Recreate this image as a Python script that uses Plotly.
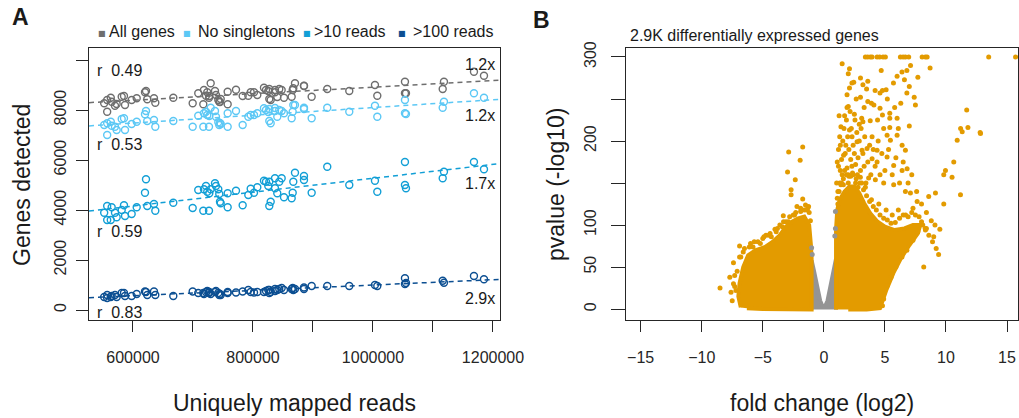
import numpy as np
import plotly.graph_objects as go

# ---------------- Panel A data ----------------
reads = [552000, 557000, 557000, 563000, 564500, 570000, 572800, 581200, 585000, 586700,
         597800, 606200, 620000, 621700, 623800, 635000, 637200, 667200, 699500, 708800,
         717200, 726700, 718300, 721700, 723800, 727200, 729500, 736700, 738300, 742200,
         743800, 745000, 746200, 757800, 757800, 771700, 782800, 792200, 796200, 801700,
         807200, 818300, 821700, 825500, 827200, 829500, 827200, 836700, 836700, 840500,
         843800, 847800, 851700, 864500, 866200, 867200, 870000, 885000, 885000, 897800,
         923800, 960500, 1003300, 1007200, 1053300, 1053300, 1055000, 1116200, 1118300, 1168300, 1185000]

all_genes = [8268, 8400, 7932, 8492, 8332, 8172, 8240, 8532, 8560, 8200,
             8400, 8468, 8708, 8760, 8428, 8468, 8292, 8492, 8268, 8668,
             8228, 8492, 8800, 8572, 8708, 8560, 9068, 8760, 8600, 8400,
             8332, 8320, 8440, 8228, 8732, 8812, 8560, 8572, 8708, 8708,
             8600, 8892, 8800, 8760, 8440, 8400, 8840, 8708, 8800, 8520,
             8840, 8800, 8492, 8532, 8800, 8868, 9068, 8972, 8960, 8532,
             8840, 8760, 9000, 8572, 9132, 8668, 8668, 8840, 9132, 9532, 9372]

no_singletons = [7400, 7468, 7000, 7532, 7372, 7332, 7200, 7640, 7668, 7200,
                 7440, 7532, 7828, 7960, 7560, 7600, 7332, 7560, 7332, 7772,
                 7332, 7332, 7868, 7932, 7800, 7760, 8092, 7960, 7732, 7508,
                 7400, 7480, 7440, 7332, 7868, 7960, 7400, 7732, 7800, 7800,
                 7868, 8068, 8000, 7920, 7560, 7468, 8040, 7960, 8080, 7732,
                 8000, 7960, 7868, 7668, 7932, 8200, 8200, 8092, 8040, 7668,
                 8092, 7932, 8172, 7732, 8400, 7868, 7840, 8092, 8332, 8668, 8492]

gt10 = [3892, 4160, 3600, 3600, 4108, 3892, 3708, 4000, 4188, 3760,
        3840, 4108, 4692, 5228, 4160, 4240, 3972, 4292, 4080, 4800,
        3972, 3972, 4828, 4960, 4732, 4668, 4828, 5068, 4960, 4828,
        4640, 4332, 4268, 4108, 4668, 4772, 4188, 4600, 4852, 4692,
        4908, 5172, 5132, 4960, 4160, 4332, 5132, 4868, 5268, 4668,
        5132, 5268, 4508, 4468, 4692, 5132, 5492, 5360, 5200, 4692,
        5732, 5000, 5172, 4732, 5920, 5000, 4868, 5268, 5532, 5920, 5628]

gt100 = [520, 600, 480, 520, 560, 600, 520, 680, 680, 560,
         560, 640, 740, 720, 600, 740, 600, 560, 740, 680,
         680, 680, 640, 720, 760, 720, 640, 720, 760, 680,
         600, 640, 600, 680, 720, 700, 740, 800, 720, 700,
         720, 720, 760, 800, 680, 720, 800, 840, 760, 800,
         840, 880, 800, 840, 880, 800, 840, 840, 900, 960,
         960, 960, 1000, 960, 1268, 1040, 1080, 1172, 1092, 1360, 1228]

series_names = ["All genes", "No singletons", ">10 reads", ">100 reads"]
series_colors = ["#6e6e6e", "#5cc8f5", "#129fd6", "#0c4f92"]
r_labels = ["r  0.49", "r  0.53", "r  0.59", "r  0.83"]
r_label_y = [9600, 6640, 3130, -110]
fold_labels = ["1.2x", "1.2x", "1.7x", "2.9x"]
fold_label_y = [9840, 7800, 5080, 480]

xA_ticks = [600000, 700000, 800000, 900000, 1000000, 1100000, 1200000]
xA_text = ["600000", "", "800000", "", "1000000", "", "1200000"]
yA_ticks = [0, 2000, 4000, 6000, 8000, 10000]
yA_text = ["0", "2000", "4000", "6000", "8000", ""]
xA_range = [526700, 1211700]
yA_range = [-400, 10480]

# ---------------- Panel B data ----------------
# envelopes of the densely packed point clouds (fold change, -log10 p)
ns_fc = [-1.0, -1.0, -0.8, -0.55, -0.3, -0.1, 0.1, 0.3, 0.55, 0.8, 1.0, 1.0]
ns_p = [-0.5, 58, 45, 25, 10, 3, 3, 10, 28, 48, 60, -0.5]
down_fc = [-6.8, -7.0, -6.9, -6.6, -6.2, -5.6, -4.8, -4.2, -3.6, -3.1, -2.6, -2.1, -1.6, -1.2, -1.05, -1.0, -1.0, -3.0, -5.0, -6.3]
down_p = [2, 15, 31, 50, 64, 70, 74, 80, 88, 98, 104, 108, 110, 100, 75, 60, -0.5, -0.5, 0, 1]
up_fc = [1.0, 1.0, 1.1, 1.3, 1.7, 2.1, 2.5, 2.9, 3.3, 3.8, 4.4, 5.0, 5.8, 6.6, 7.3, 7.9, 7.7, 7.0, 6.3, 5.7, 5.1, 4.8, 4.6, 3.5, 2.0]
up_p = [-0.5, 95, 118, 130, 140, 146, 146, 138, 126, 114, 104, 98, 94, 96, 100, 100, 90, 76, 60, 43, 22, 8, 1, -0.5, -0.5]

# individual sparse significant genes
sig_fc = [3.4, 3.59, 3.81, 3.95, 4.36, 4.57, 4.85, 5.04, 6.27, 6.49, 6.68, 6.95, 8.05, 8.32, 8.46, 13.5, 15.7,
          1.5, 2.1, 4.7, 6.4, 6.8, 7.1, 7.7, 8.7, 2.3, 3.2, 3.6, 2.1, 3.5, 4.2, 4.8, 5.1,
          5.7, 6.0, 6.6, 7.0, 6.8, 4.6, 7.4, 7.5, 2.0, 3.6, 4.1, 4.6, 5.4, 3.1, 3.2, 3.8,
          4.8, 5.4, 6.0, 11.7, 1.4, 2.1, 2.9, 4.9, 5.4, 6.1, 7.0, 11.2, 11.8, 12.8,
          1.35, 1.62, 2.31, 2.72, 3.13, 3.54, 3.95, 4.36, 5.18, 5.45, 6.0, 6.41, 6.68,
          3.95, 4.36, 5.18, 5.72, 6.41, 6.82, 2.99, 3.67, 4.22, 4.9, 5.72, 6.68, 7.09, 7.64,
          8.59, 9.14, 9.82, 9.96, 10.64, 10.5, 11.19, 10.92, 11.33, 12.83, 9.82, 8.18, 9.0, 8.32,
          1.2, 1.5, 1.9, 2.2, 2.5, 1.8, 2.6, 2.0, 2.8, 1.3, 2.4, 3.3, 2.7, 3.3, 1.7, 2.5, 1.9, 3.0,
          1.1, 1.25, 1.45, 1.6, 1.85, 2.05, 2.35, 2.65, 2.95, 3.25, 3.5, 3.75, 4.05, 4.3, 4.6,
          4.9, 5.2, 5.5, 5.85, 6.2, 6.5, 6.9, 7.2, 7.5, 7.8, 8.0, 8.3, 8.6, 8.9, 9.2, 9.4,
          1.15, 1.4, 1.7, 2.0, 2.3, 2.6, 3.0, 3.4, 3.9, 4.5, 5.1, 5.6, 6.1, 6.7, 7.3,
          1.05, 1.1, 1.2, 1.3, 1.45, 1.55, 1.65, 1.75, 1.85, 1.95, 2.05, 2.15, 2.25, 2.4, 2.55,
          2.65, 2.8, 2.9, 3.05, 3.2, 3.35, 3.45, 3.6, 3.75, 3.85, 4.05, 4.2, 4.45, 4.6, 4.75,
          5.0, 5.3, 5.6, 5.9, 6.2, 6.5, 6.9, 7.2, 7.6, 8.0, 8.4, 8.8, 9.1, 9.5, 1.35,
          1.15, 1.6, 2.2, 2.75, 3.1, 1.9, 2.45, 2.0, 1.25, 3.0, 3.9, 4.4, 5.2, 5.8, 6.3,
          4.9, 5.2, 5.5, 5.9, 6.4, 6.8, 7.3, 7.7, 8.1, 8.4, 4.8,
          -2.88, -1.73, -1.94, -2.97, -2.34, -2.68, -2.68, -1.73, -1.32, -3.32, -4.74, -6.9, -7.7, -8.5, -7.3,
          -4.0, -3.6, -2.2, -1.1, -6.5, -6.0, -5.4, -5.0, -4.5, -3.9, -3.4, -2.9, -2.5, -1.9, -1.4,
          -7.3, -7.4, -7.2, -6.8, -5.8, -4.3, -3.1, -2.4, -1.6, -1.25,
          -6.9, -6.6, -6.1, -5.7, -5.2, -4.9, -4.4, -3.8, -3.3, -2.8, -2.3, -1.9, -1.5, -1.2,
          -7.5, -7.6, -7.4, -7.1]
sig_p = [300, 300, 300, 300, 300, 300, 300, 300, 300, 300, 300, 300, 300, 300, 300, 300, 300,
         292, 286, 284, 282, 284, 290, 276, 287, 269, 267, 271, 263, 262, 260, 260, 261,
         269, 277, 273, 265, 257, 257, 252, 243, 241, 247, 243, 239, 233, 227, 223, 224,
         231, 227, 227, 237, 217, 213, 220, 215, 216, 215, 218, 215, 216, 210,
         195, 183, 205, 199, 189, 191, 205, 189, 207, 201, 207, 195, 189,
         179, 175, 181, 171, 165, 167, 157, 156, 154, 150, 148, 140, 138, 128,
         134, 138, 160, 165, 175, 157, 136, 201, 211, 209, 125, 50, 86, 94,
         170, 160, 168, 178, 185, 195, 172, 150, 145, 150, 160, 170, 210, 240, 230, 232, 255, 252,
         132, 140, 150, 155, 160, 158, 162, 155, 150, 142, 135, 128, 122, 118, 112,
         108, 106, 102, 103, 108, 112, 110, 115, 112, 110, 104, 96, 88, 80, 72, 65,
         125, 148, 165, 160, 170, 150, 165, 145, 130, 125, 118, 112, 118, 112, 120,
         150, 175, 190, 205, 178, 200, 215, 185, 225, 205, 190, 235, 215, 195, 225,
         250, 180, 200, 215, 185, 205, 150, 175, 195, 160, 190, 170, 200, 160, 185,
         165, 190, 160, 180, 150, 175, 150, 160, 140, 125, 115, 105, 100, 95, 165,
         140, 148, 158, 160, 150, 240, 270, 280, 230, 275, 245, 225, 250, 240, 245,
         12, 28, 38, 50, 62, 70, 82, 92, 100, 96, 4,
         187, 193, 177, 163, 154, 142, 136, 131, 120, 111, 88, 75, 38, 25, 27,
         95, 100, 122, 105, 72, 78, 80, 84, 88, 92, 98, 104, 112, 116, 118,
         40, 55, 22, 62, 74, 86, 104, 112, 118, 122,
         62, 68, 74, 80, 78, 86, 90, 96, 104, 110, 115, 120, 124, 115,
         10, 20, 30, 45]
ns_extra_fc = [0.95, 0.95, 0.9, -1.0, -0.95]
ns_extra_p = [116, 96, 87, 73, 65]

xB_ticks = [-15, -10, -5, 0, 5, 10, 15]
yB_ticks = [0, 50, 100, 150, 200, 250, 300]
yB_text = ["0", "50", "100", "", "200", "", "300"]
xB_range = [-16.2, 15.9]
yB_range = [-13, 310.7]

ORANGE = "#e39b00"
GREY = "#949494"
FONT = "Liberation Sans, Arial, sans-serif"
W, H = 1019, 418

fig = go.Figure()

# Panel A points and fits
for name, ys, col in zip(series_names, [all_genes, no_singletons, gt10, gt100], series_colors):
    fig.add_trace(go.Scatter(x=reads, y=ys, mode="markers", name=name, showlegend=False,
                             marker=dict(symbol="circle-open", size=7, color=col, line=dict(width=1.4, color=col)),
                             xaxis="x", yaxis="y"))
    k, b = np.polyfit(reads, ys, 1)
    xs = np.array(xA_range)
    fig.add_trace(go.Scatter(x=xs, y=k * xs + b, mode="lines", showlegend=False,
                             line=dict(color=col, width=1.5, dash="5px,4px"), xaxis="x", yaxis="y"))

# Panel B
for fx, fy, col in [(ns_fc, ns_p, GREY), (down_fc, down_p, ORANGE), (up_fc, up_p, ORANGE)]:
    fig.add_trace(go.Scatter(x=fx, y=fy, mode="lines", fill="toself", fillcolor=col,
                             line=dict(color=col, width=4), showlegend=False, hoverinfo="skip",
                             xaxis="x2", yaxis="y2"))
fig.add_trace(go.Scatter(x=ns_extra_fc, y=ns_extra_p, mode="markers", showlegend=False,
                         marker=dict(size=5, color=GREY), xaxis="x2", yaxis="y2"))
fig.add_trace(go.Scatter(x=sig_fc, y=sig_p, mode="markers", showlegend=False,
                         marker=dict(size=5, color=ORANGE), xaxis="x2", yaxis="y2"))

axis_common = dict(showgrid=False, zeroline=False, showline=True, mirror=True, linecolor="#262626",
                   linewidth=1.3, ticks="outside", tickwidth=1.2, tickcolor="#262626",
                   automargin=False, tickfont=dict(family=FONT, size=16, color="#262626"))

def px_x(p):
    return p / W

def px_y(p):
    return 1 - p / H

fig.update_layout(
    width=W, height=H, margin=dict(l=0, r=0, t=0, b=0, pad=0, autoexpand=False), autosize=False,
    paper_bgcolor="white", plot_bgcolor="white", showlegend=False,
    xaxis=dict(domain=[px_x(89), px_x(500)], range=xA_range, tickvals=xA_ticks, ticktext=xA_text,
               ticklen=11, ticklabelstandoff=12, anchor="y", **axis_common),
    yaxis=dict(domain=[px_y(320), px_y(48)], range=yA_range, tickvals=yA_ticks, ticktext=yA_text,
               ticklen=12, tickangle=-90, ticklabelstandoff=3, anchor="x", **axis_common),
    xaxis2=dict(domain=[px_x(626), px_x(1018)], range=xB_range, tickvals=xB_ticks,
                ticktext=[str(v).replace("-", "\u2212") for v in xB_ticks],
                ticklen=11, ticklabelstandoff=12, anchor="y2", **axis_common),
    yaxis2=dict(domain=[px_y(320), px_y(48)], range=yB_range, tickvals=yB_ticks, ticktext=yB_text,
                ticklen=14, tickangle=-90, ticklabelstandoff=8, anchor="x2", **axis_common),
)

ann = []
def txt(x, y, s, size=16, xanchor="center", yanchor="middle", bold=False, angle=0, color="#1a1a1a", family=FONT):
    ann.append(dict(x=x, y=y, xref="paper", yref="paper", text=("<b>%s</b>" % s) if bold else s,
                    showarrow=False, xanchor=xanchor, yanchor=yanchor, textangle=angle,
                    font=dict(family=family, size=size, color=color)))

txt(px_x(10), px_y(17), "A", size=23, xanchor="left", bold=True)
txt(px_x(531), px_y(20), "B", size=23, xanchor="left", bold=True)
txt(px_x(22), px_y(185), "Genes detected", size=23, angle=-90)
txt(px_x(294), px_y(403), "Uniquely mapped reads", size=23)
txt(px_x(556), px_y(185), "pvalue (-log10)", size=23, angle=-90)
txt(px_x(822), px_y(403), "fold change (log2)", size=23)
txt(px_x(628), px_y(35), "2.9K differentially expressed genes", size=16, xanchor="left")

# legend row of panel A
legend_sq_x = [96, 181, 301, 396]
legend_txt_x = [107, 196, 312, 411]
for name, col, sx, tx in zip(series_names, series_colors, legend_sq_x, legend_txt_x):
    txt(px_x(sx), px_y(33), "\u25a0", size=8, xanchor="left", color=col, family="DejaVu Sans")
    txt(px_x(tx), px_y(32), name, size=16, xanchor="left")

fig.update_layout(annotations=ann)
for s, yv in zip(r_labels, r_label_y):
    fig.add_annotation(x=536000, y=yv, xref="x", yref="y", text=s, showarrow=False, xanchor="left",
                       font=dict(family=FONT, size=16, color="#1a1a1a"))
for s, yv in zip(fold_labels, fold_label_y):
    fig.add_annotation(x=1207000, y=yv, xref="x", yref="y", text=s, showarrow=False, xanchor="right",
                       font=dict(family=FONT, size=16, color="#1a1a1a"))

page_fix = (
    "document.documentElement.style.cssText='margin:0;padding:0;overflow:hidden;';"
    "document.body.style.cssText='margin:0;padding:0;overflow:hidden;';"
)
fig.write_html("out.html", config={"displayModeBar": False}, post_script=page_fix)
